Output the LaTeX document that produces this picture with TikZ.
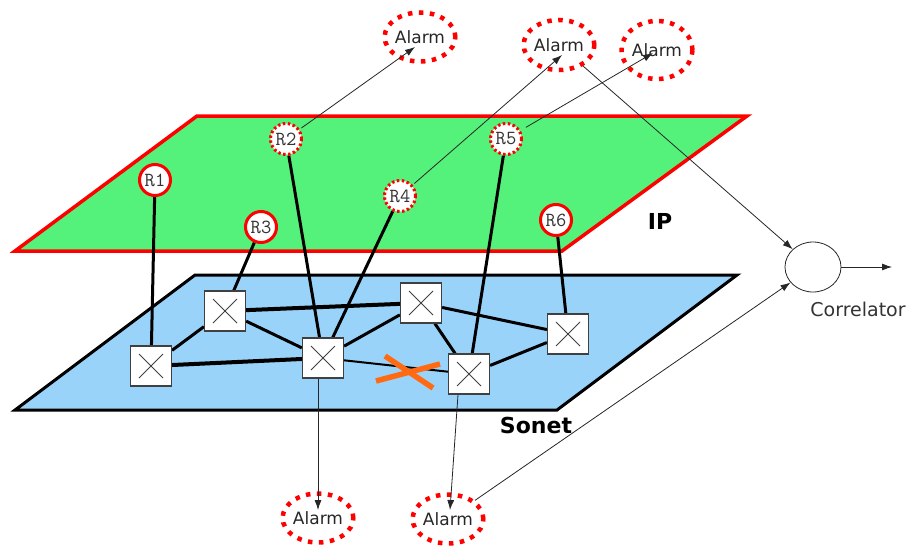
\documentclass[tikz,border=0pt]{standalone}
\usepackage{fontspec}
\setmainfont{DejaVu Sans}
\usetikzlibrary{arrows.meta,shapes.geometric,calc}
\pgfdeclarelayer{planes}
\pgfdeclarelayer{links}
\pgfsetlayers{planes,links,main}
\definecolor{ipgreen}{RGB}{84,242,122}
\definecolor{sonetblue}{RGB}{153,211,250}
\definecolor{xorange}{RGB}{255,106,19}
\tikzset{
  router/.style={circle, draw=red, fill=white, line width=3pt, minimum size=31pt, inner sep=0pt,
    font=\ttfamily\fontsize{20}{20}\selectfont, text=black!80},
  routerd/.style={router, dash pattern=on 2.5pt off 2.5pt},
  swbox/.style={rectangle, draw=gray!50!black, line width=1.2pt, fill=white,
    minimum width=41pt, minimum height=40pt, inner sep=0pt,
    path picture={
      \draw[gray!50!black, line width=0.8pt]
        ([shift={(-12,-12)}]path picture bounding box.center) -- ([shift={(12,12)}]path picture bounding box.center)
        ([shift={(-12,12)}]path picture bounding box.center) -- ([shift={(12,-12)}]path picture bounding box.center);
    }},
  alarm/.style={ellipse, draw=red, line width=4.5pt, dash pattern=on 4.5pt off 6.5pt, inner sep=0pt,
    font=\fontsize{17}{17}\selectfont, text=black!85},
  thinarr/.style={-{Latex[length=10pt,width=7pt]}, line width=0.8pt, draw=black!85},
  link/.style={line width=3pt},
  xmark/.style={xorange, line width=5.5pt},
  planelabel/.style={font=\bfseries\fontsize{22}{22}\selectfont}
}
\begin{document}
\begin{tikzpicture}[x=1pt,y=-1pt]
\useasboundingbox (0,0) rectangle (908,546);

% planes
\begin{pgfonlayer}{planes}
  \draw[fill=sonetblue, line width=3pt, line join=miter] (195,275) -- (737,275) -- (557,410) -- (15,410) -- cycle;
  \draw[fill=ipgreen, draw=red, line width=3.5pt, line join=miter] (197,116) -- (747,116) -- (562,251) -- (15,251) -- cycle;
\end{pgfonlayer}

% routers
\node[router]  (R1) at (155,180) {R1};
\node[routerd] (R2) at (286,139) {R2};
\node[router]  (R3) at (261,227) {R3};
\node[routerd] (R4) at (400,196) {R4};
\node[routerd] (R5) at (506,139) {R5};
\node[router]  (R6) at (556,220) {R6};

% switches
\node[swbox] (S1) at (151,366) {};
\node[swbox] (S2) at (225,311) {};
\node[swbox] (S3) at (323,358) {};
\node[swbox] (S4) at (421,303) {};
\node[swbox] (S5) at (469,374) {};
\node[swbox] (S6) at (568,334) {};

% alarms
\node[alarm, minimum width=59pt, minimum height=49pt] (A1) at (420,37) {Alarm};
\node[alarm, minimum width=58pt, minimum height=50pt] (A2) at (559,45) {Alarm};
\node[alarm, minimum width=56pt, minimum height=58pt] (A3) at (657,50) {Alarm};
\node[alarm, minimum width=49pt, minimum height=49pt] (A4) at (318,518) {Alarm};
\node[alarm, minimum width=49pt, minimum height=49pt] (A5) at (448,519) {Alarm};

% correlator
\node[ellipse, draw=black!85, line width=0.8pt, minimum width=56pt, minimum height=50pt] (C) at (813,267) {};
\coordinate (Cout) at (892,267);
\node[font=\fontsize{19}{19}\selectfont, text=black!80] (Clab) at (858,309) {Correlator};

% plane labels
\node[planelabel] (IPlab) at (660,221) {IP};
\node[planelabel] (SONlab) at (536,425) {Sonet};

% links
\begin{pgfonlayer}{links}
  \draw[link] (S1) -- (S2);
  \draw[link, line width=4pt] (S1) -- (S3);
  \draw[link] (S2) -- (S3);
  \draw[link, line width=4pt] (S2) -- (S4);
  \draw[link] (S3) -- (S4);
  \draw[link, line width=2pt] (S3) -- (S5);
  \draw[link] (S4) -- (S5);
  \draw[link] (S4) -- (S6);
  \draw[link] (S5) -- (S6);
  \draw[link] (R1) -- (S1);
  \draw[link] (R3) -- (S2);
  \draw[link] (R2) -- (S3);
  \draw[link] (R4) -- (S3);
  \draw[link] (R5) -- (S5);
  \draw[link] (R6) -- (S6);
\end{pgfonlayer}

% failure mark
\draw[xmark] (376,381) -- (440,364);
\draw[xmark] (385,356) -- (433,388);

% alarm arrows
\draw[thinarr, shorten <=2pt] (R2) -- ([shift={(-5,10)}]A1.center);
\draw[thinarr, shorten <=2pt] (R4) -- ([shift={(3,10)}]A2.center);
\draw[thinarr, shorten <=6pt] (R5) -- ([shift={(-4,3)}]A3.center);
\draw[thinarr] (A2) -- (C);
\draw[thinarr] ([xshift=-5pt]S3.south) -- ([shift={(0,-8)}]A4.center);
\draw[thinarr] ([xshift=-11pt]S5.south) -- ([shift={(2,-9)}]A5.center);
\draw[thinarr] (A5) -- (C);
\draw[thinarr] (C) -- (Cout);
\end{tikzpicture}
\end{document}
